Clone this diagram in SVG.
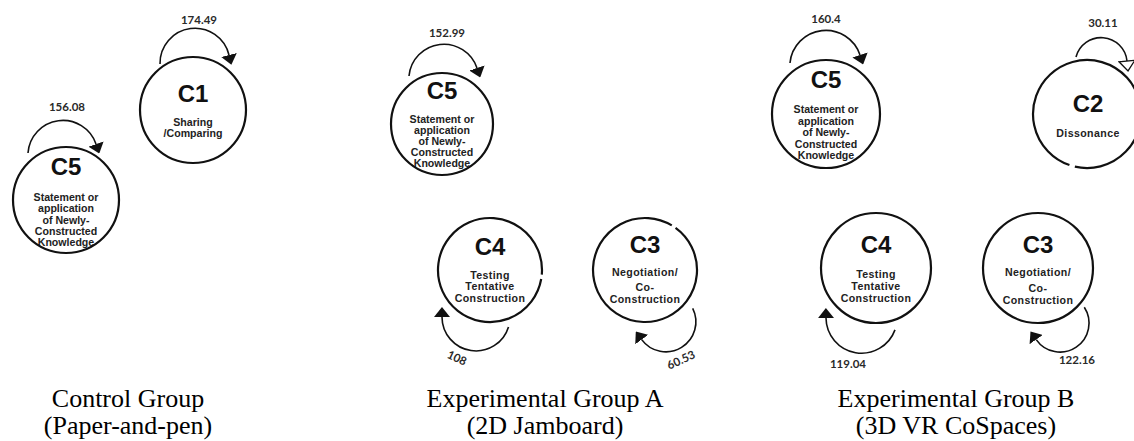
<svg xmlns="http://www.w3.org/2000/svg" width="1134" height="441" viewBox="0 0 1134 441">
  <style>
    .ring { fill: none; stroke: #111; stroke-width: 2.2; }
    .loop { fill: none; stroke: #111; stroke-width: 1.6; marker-end: url(#head); }
    .loop-open { fill: none; stroke: #111; stroke-width: 1.6; marker-end: url(#head-open); }
    .code { font-family: "Liberation Sans", Arial, sans-serif; font-weight: 700; font-size: 24px; fill: #111; text-anchor: middle; }
    .desc { font-family: "Liberation Sans", Arial, sans-serif; font-weight: 700; font-size: 10.6px; fill: #222; text-anchor: middle; }
    .spaced { letter-spacing: 0.4px; }
    .num { font-family: Lato, "Liberation Sans", sans-serif; font-weight: 700; font-size: 11.5px; fill: #2a2a2a; text-anchor: middle; }
    .caption { font-family: "Liberation Serif", "Times New Roman", serif; font-size: 26px; fill: #000; text-anchor: middle; }
  </style>
  <defs>
    <marker id="head" markerUnits="userSpaceOnUse" viewBox="0 0 10 16" markerWidth="10" markerHeight="16" refX="0" refY="8" orient="auto">
      <path d="M0,0 L10,8 L0,16 z" fill="#111"/>
    </marker>
    <marker id="head-open" markerUnits="userSpaceOnUse" viewBox="-1 -1 12 18" markerWidth="12" markerHeight="18" refX="0" refY="8" orient="auto">
      <path d="M0,0 L10,8 L0,16 z" fill="#fff" stroke="#111" stroke-width="1.3"/>
    </marker>
  </defs>
  <rect width="1134" height="441" fill="#fff"/>

  <!-- Control group -->
  <g id="ctrl-c1">
    <circle class="ring" cx="193" cy="110" r="53"/>
    <text class="code" x="193" y="102">C1</text>
    <text class="desc" x="193" y="126">Sharing</text>
    <text class="desc" x="193" y="137">/Comparing</text>
  </g>
  <g id="ctrl-c5">
    <text class="code" x="66" y="175">C5</text>
    <text class="desc" x="66" y="201">Statement or</text>
    <text class="desc" x="66" y="212">application</text>
    <text class="desc" x="66" y="224">of Newly-</text>
    <text class="desc" x="66" y="235">Constructed</text>
    <text class="desc" x="66" y="246">Knowledge</text>
    <circle class="ring" cx="66" cy="200" r="53"/>
  </g>

  <!-- Experimental group A -->
  <g id="a-c5">
    <text class="code" x="442" y="99">C5</text>
    <text class="desc" x="442" y="123">Statement or</text>
    <text class="desc" x="442" y="134">application</text>
    <text class="desc" x="442" y="145">of Newly-</text>
    <text class="desc" x="442" y="156">Constructed</text>
    <text class="desc" x="442" y="167">Knowledge</text>
    <circle class="ring" cx="442" cy="124" r="51"/>
  </g>
  <g id="a-c4">
    <path class="ring" d="M541.21,279.03 A52,52 0 1 1 541.80,274.53"/>
    <text class="code" x="490" y="255">C4</text>
    <text class="desc spaced" x="490" y="279">Testing</text>
    <text class="desc spaced" x="490" y="290">Tentative</text>
    <text class="desc spaced" x="490" y="302">Construction</text>
  </g>
  <g id="a-c3">
    <path class="ring" d="M675.56,227.93 A52,52 0 1 1 671.78,225.43"/>
    <text class="code" x="645" y="253">C3</text>
    <text class="desc spaced" x="645" y="276">Negotiation/</text>
    <text class="desc spaced" x="645" y="291">Co-</text>
    <text class="desc spaced" x="645" y="303">Construction</text>
  </g>

  <!-- Experimental group B -->
  <g id="b-c5">
    <text class="code" x="826" y="88">C5</text>
    <text class="desc" x="826" y="113">Statement or</text>
    <text class="desc" x="826" y="124.5">application</text>
    <text class="desc" x="826" y="136">of Newly-</text>
    <text class="desc" x="826" y="147.5">Constructed</text>
    <text class="desc" x="826" y="159">Knowledge</text>
    <circle class="ring" cx="826" cy="114" r="54"/>
  </g>
  <g id="b-c2">
    <path class="ring" d="M1069.42,165.06 A54,54 0 1 1 1074.85,166.62"/>
    <text class="code" x="1088" y="112">C2</text>
    <text class="desc spaced" x="1088" y="137">Dissonance</text>
  </g>
  <g id="b-c4">
    <circle class="ring" cx="876" cy="268" r="55"/>
    <text class="code" x="876" y="253">C4</text>
    <text class="desc spaced" x="876" y="278">Testing</text>
    <text class="desc spaced" x="876" y="290">Tentative</text>
    <text class="desc spaced" x="876" y="302">Construction</text>
  </g>
  <g id="b-c3">
    <circle class="ring" cx="1038" cy="268" r="55"/>
    <text class="code" x="1038" y="253">C3</text>
    <text class="desc spaced" x="1038" y="276">Negotiation/</text>
    <text class="desc spaced" x="1038" y="292">Co-</text>
    <text class="desc spaced" x="1038" y="304">Construction</text>
  </g>

  <!-- Self-loops with their weights -->
  <g id="connectors">
    <path class="loop" d="M160,64 A35,35 0 0 1 229,55"/>
    <text class="num" x="199" y="24">174.49</text>

    <path class="loop" d="M28,153 A35,35 0 0 1 96,144"/>
    <text class="num" x="67" y="111">156.08</text>

    <path class="loop" d="M409,76 A35,35 0 0 1 477,68"/>
    <text class="num" x="447" y="37">152.99</text>

    <path class="loop" d="M508.5,326.9 A34,34 0 0 1 442,317"/>
    <text class="num" transform="translate(457,358) rotate(25)" x="0" y="4">108</text>

    <path class="loop" d="M692.7,308.4 A30,30 0 0 1 641.7,339.6"/>
    <text class="num" transform="translate(681,360) rotate(-25)" x="0" y="4">60.53</text>

    <path class="loop" d="M790,63 A36,36 0 0 1 860,55"/>
    <text class="num" x="826" y="23">160.4</text>

    <path class="loop-open" d="M1076,57 A26,26 0 0 1 1127,61"/>
    <text class="num" x="1103" y="27">30.11</text>

    <path class="loop" d="M895,329.9 A35.6,35.6 0 0 1 826,318"/>
    <text class="num" x="848" y="368">119.04</text>

    <path class="loop" d="M1084.3,307.2 A29,29 0 0 1 1036.2,339.6"/>
    <text class="num" x="1077" y="364">122.16</text>
  </g>

  <!-- Group captions -->
  <g id="captions">
    <text class="caption" x="128" y="407">Control Group</text>
    <text class="caption" x="128" y="434">(Paper-and-pen)</text>
    <text class="caption" x="545" y="407">Experimental Group A</text>
    <text class="caption" x="545" y="434">(2D Jamboard)</text>
    <text class="caption" x="956" y="407">Experimental Group B</text>
    <text class="caption" x="956" y="434">(3D VR CoSpaces)</text>
  </g>
</svg>
